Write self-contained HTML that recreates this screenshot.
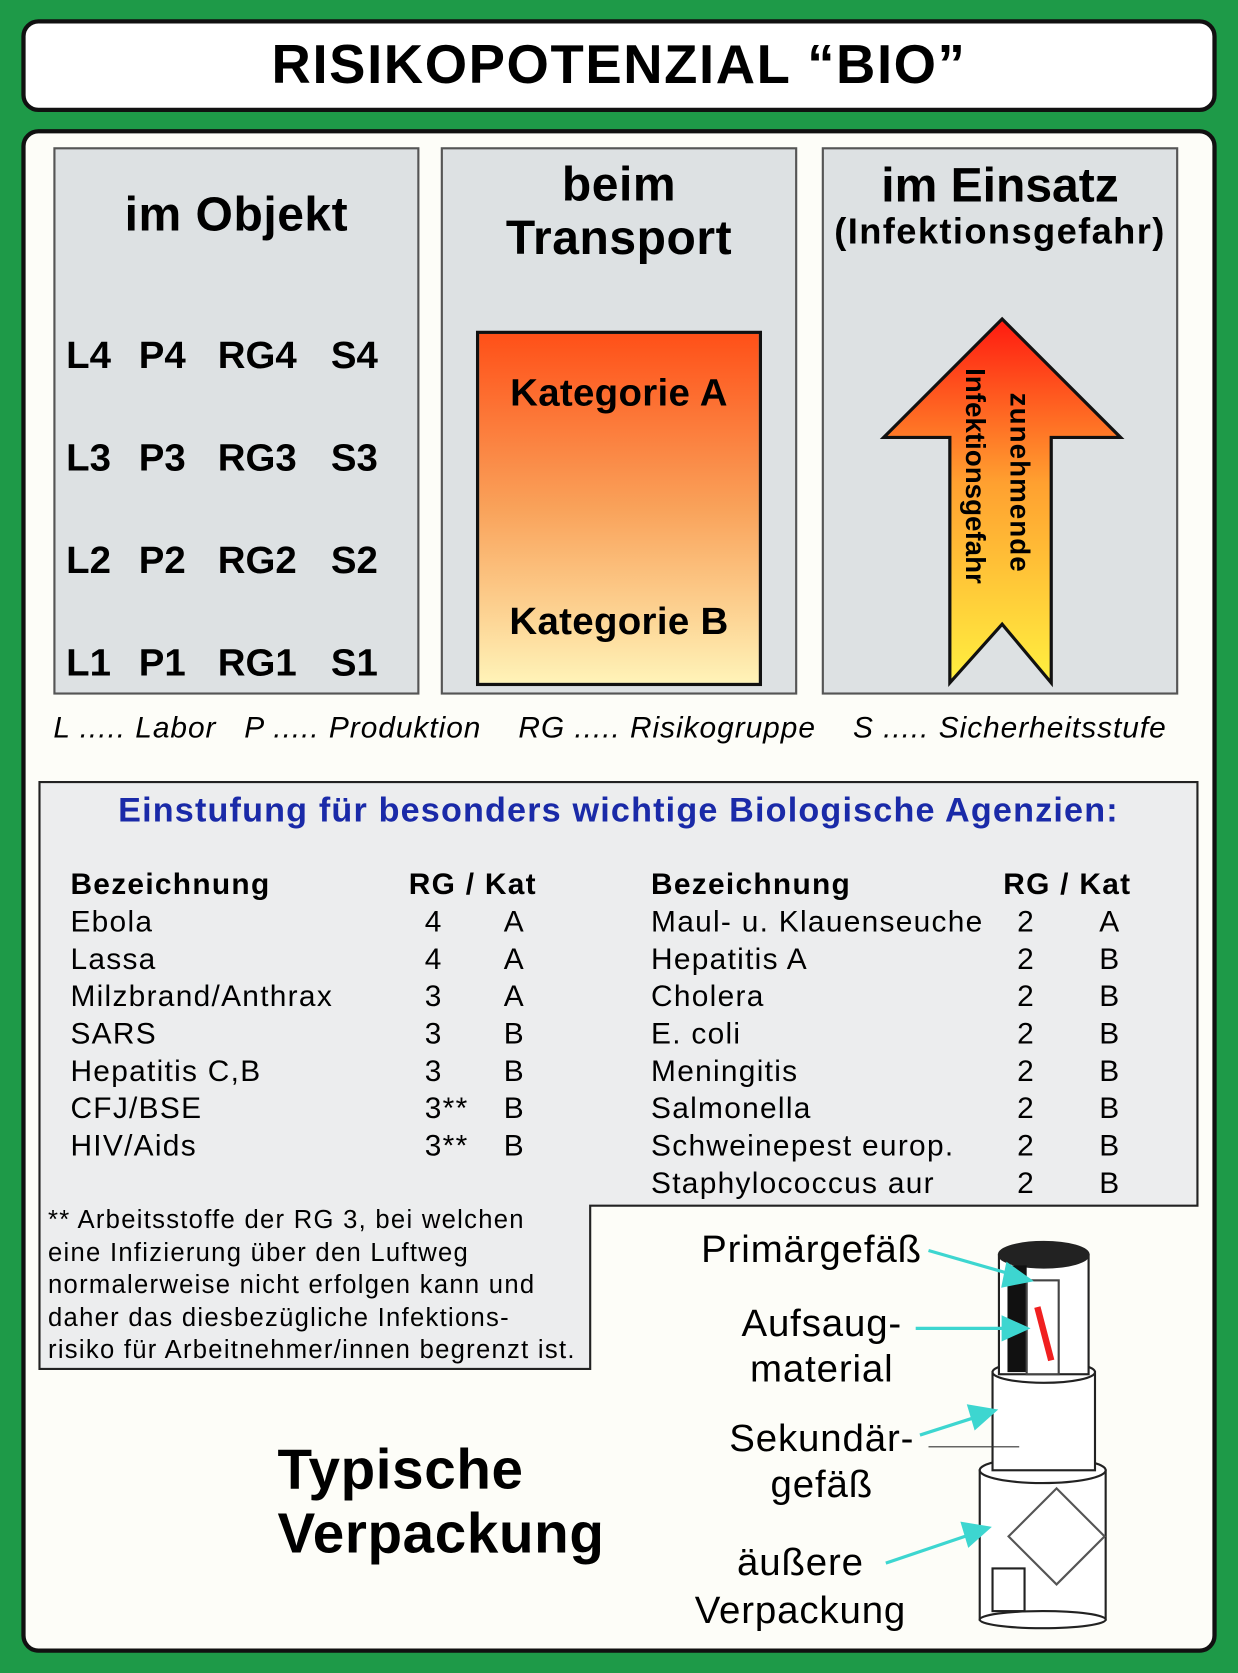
<!DOCTYPE html>
<html><head><meta charset="utf-8"><style>
html,body{margin:0;padding:0;background:#1e9a48;}
#wrap{width:1160px;height:1568px;transform:scale(1.06724,1.06696);transform-origin:0 0;position:relative;font-family:"Liberation Sans",sans-serif;}
.a{position:absolute;white-space:nowrap;}
.b{font-weight:bold;}
.panel{position:absolute;background:#dde1e3;border:2px solid #555;box-sizing:border-box;}
</style></head><body>
<div id="wrap">
<div class="a" style="left:20px;top:18px;width:1120px;height:87px;background:#fff;border:4px solid #111;border-radius:16px;box-sizing:border-box;"></div>
<div class="a b" style="left:20px;top:31px;width:1120px;text-align:center;font-size:51px;letter-spacing:1.5px;">RISIKOPOTENZIAL “BIO”</div>
<div class="a" style="left:20px;top:121px;width:1120px;height:1428px;background:#fdfdf8;border:4px solid #111;border-radius:16px;box-sizing:border-box;"></div>

<div class="panel" style="left:50px;top:138px;width:343px;height:513px;"></div>
<div class="panel" style="left:413px;top:138px;width:334px;height:513px;"></div>
<div class="panel" style="left:770px;top:138px;width:334px;height:513px;"></div>

<div class="a b" style="left:50px;top:175px;width:343px;text-align:center;font-size:45px;letter-spacing:0.5px;">im Objekt</div>
<div style="font-size:36px;font-weight:bold;">
<div class="a" style="left:62px;top:312px">L4</div><div class="a" style="left:130px;top:312px">P4</div><div class="a" style="left:204px;top:312px">RG4</div><div class="a" style="left:310px;top:312px">S4</div>
<div class="a" style="left:62px;top:408px">L3</div><div class="a" style="left:130px;top:408px">P3</div><div class="a" style="left:204px;top:408px">RG3</div><div class="a" style="left:310px;top:408px">S3</div>
<div class="a" style="left:62px;top:504px">L2</div><div class="a" style="left:130px;top:504px">P2</div><div class="a" style="left:204px;top:504px">RG2</div><div class="a" style="left:310px;top:504px">S2</div>
<div class="a" style="left:62px;top:600px">L1</div><div class="a" style="left:130px;top:600px">P1</div><div class="a" style="left:204px;top:600px">RG1</div><div class="a" style="left:310px;top:600px">S1</div>
</div>

<div class="a b" style="left:413px;top:148px;width:334px;text-align:center;font-size:45px;line-height:50px;letter-spacing:0.5px;">beim<br>Transport</div>
<div class="a" style="left:446px;top:310px;width:268px;height:333px;border:3px solid #111;box-sizing:border-box;background:linear-gradient(#ff5018,#f9a25a 50%,#fff3b8);"></div>
<div class="a b" style="left:446px;top:347px;width:268px;text-align:center;font-size:36px;letter-spacing:0.3px;">Kategorie A</div>
<div class="a b" style="left:446px;top:561px;width:268px;text-align:center;font-size:36px;letter-spacing:0.3px;">Kategorie B</div>

<div class="a b" style="left:770px;top:148px;width:334px;text-align:center;font-size:45px;">im Einsatz</div>
<div class="a b" style="left:770px;top:198px;width:334px;text-align:center;font-size:34px;letter-spacing:1.3px;">(Infektionsgefahr)</div>
<svg class="a" style="left:0;top:0" width="1160" height="700">
<defs><linearGradient id="ag" x1="0" y1="0" x2="0" y2="1"><stop offset="0" stop-color="#ff1a10"/><stop offset="0.45" stop-color="#ffa030"/><stop offset="1" stop-color="#fff040"/></linearGradient></defs>
<polygon points="939,299 1050,410 985,410 985,640 939,585 890,640 890,410 828,410" fill="url(#ag)" stroke="#111" stroke-width="3"/>
<text x="0" y="0" transform="translate(905,345) rotate(90)" font-family="Liberation Sans" font-weight="bold" font-size="26">Infektionsgefahr</text>
<text x="0" y="0" transform="translate(947,368) rotate(90)" font-family="Liberation Sans" font-weight="bold" font-size="26" letter-spacing="1">zunehmende</text>
</svg>

<div class="a" style="left:50px;top:666px;font-size:28px;font-style:italic;letter-spacing:0.9px;">L ..... Labor&nbsp;&nbsp;&nbsp;P ..... Produktion&nbsp;&nbsp;&nbsp;&nbsp;RG ..... Risikogruppe&nbsp;&nbsp;&nbsp;&nbsp;S ..... Sicherheitsstufe</div>

<svg class="a" style="left:0;top:0" width="1160" height="1300">
<polygon points="37,733 1122,733 1122,1130 553,1130 553,1283 37,1283" fill="#ecedee" stroke="#222" stroke-width="2"/>
</svg>
<div class="a b" style="left:37px;top:741px;width:1085px;text-align:center;font-size:32px;letter-spacing:1.1px;color:#1a2aa8;">Einstufung für besonders wichtige Biologische Agenzien:</div>
<div style="font-size:28px;letter-spacing:1.2px;">
<div class="a b" style="left:66px;top:813px">Bezeichnung</div><div class="a b" style="left:383px;top:813px">RG / Kat</div>
<div class="a b" style="left:610px;top:813px">Bezeichnung</div><div class="a b" style="left:940px;top:813px">RG / Kat</div>
<div class="a" style="left:66px;top:848px">Ebola</div><div class="a" style="left:398px;top:848px">4</div><div class="a" style="left:472px;top:848px">A</div>
<div class="a" style="left:66px;top:883px">Lassa</div><div class="a" style="left:398px;top:883px">4</div><div class="a" style="left:472px;top:883px">A</div>
<div class="a" style="left:66px;top:918px">Milzbrand/Anthrax</div><div class="a" style="left:398px;top:918px">3</div><div class="a" style="left:472px;top:918px">A</div>
<div class="a" style="left:66px;top:953px">SARS</div><div class="a" style="left:398px;top:953px">3</div><div class="a" style="left:472px;top:953px">B</div>
<div class="a" style="left:66px;top:988px">Hepatitis C,B</div><div class="a" style="left:398px;top:988px">3</div><div class="a" style="left:472px;top:988px">B</div>
<div class="a" style="left:66px;top:1023px">CFJ/BSE</div><div class="a" style="left:398px;top:1023px">3**</div><div class="a" style="left:472px;top:1023px">B</div>
<div class="a" style="left:66px;top:1058px">HIV/Aids</div><div class="a" style="left:398px;top:1058px">3**</div><div class="a" style="left:472px;top:1058px">B</div>
<div class="a" style="left:610px;top:848px">Maul- u. Klauenseuche</div><div class="a" style="left:953px;top:848px">2</div><div class="a" style="left:1030px;top:848px">A</div>
<div class="a" style="left:610px;top:883px">Hepatitis A</div><div class="a" style="left:953px;top:883px">2</div><div class="a" style="left:1030px;top:883px">B</div>
<div class="a" style="left:610px;top:918px">Cholera</div><div class="a" style="left:953px;top:918px">2</div><div class="a" style="left:1030px;top:918px">B</div>
<div class="a" style="left:610px;top:953px">E. coli</div><div class="a" style="left:953px;top:953px">2</div><div class="a" style="left:1030px;top:953px">B</div>
<div class="a" style="left:610px;top:988px">Meningitis</div><div class="a" style="left:953px;top:988px">2</div><div class="a" style="left:1030px;top:988px">B</div>
<div class="a" style="left:610px;top:1023px">Salmonella</div><div class="a" style="left:953px;top:1023px">2</div><div class="a" style="left:1030px;top:1023px">B</div>
<div class="a" style="left:610px;top:1058px">Schweinepest europ.</div><div class="a" style="left:953px;top:1058px">2</div><div class="a" style="left:1030px;top:1058px">B</div>
<div class="a" style="left:610px;top:1093px">Staphylococcus aur</div><div class="a" style="left:953px;top:1093px">2</div><div class="a" style="left:1030px;top:1093px">B</div>
</div>
<div class="a" style="left:45px;top:1129px;font-size:24px;letter-spacing:1.2px;line-height:30.5px;">** Arbeitsstoffe der RG 3, bei welchen<br>eine Infizierung über den Luftweg<br>normalerweise nicht erfolgen kann und<br>daher das diesbezügliche Infektions-<br>risiko für Arbeitnehmer/innen begrenzt ist.</div>

<div class="a b" style="left:260px;top:1348px;font-size:53px;letter-spacing:0.6px;line-height:60px;">Typische<br>Verpackung</div>

<div style="font-size:36px;letter-spacing:0.8px;">
<div class="a" style="left:657px;top:1150px">Primärgefäß</div>
<div class="a" style="left:680px;top:1218px;width:180px;text-align:center;line-height:43px;">Aufsaug-<br>material</div>
<div class="a" style="left:670px;top:1326px;width:200px;text-align:center;line-height:43px;">Sekundär-<br>gefäß</div>
<div class="a" style="left:640px;top:1441px;width:220px;text-align:center;line-height:45px;">äußere<br>Verpackung</div>
</div>

<svg class="a" style="left:0;top:0" width="1160" height="1568">
<g stroke="#222" stroke-width="2" fill="#fff">
<rect x="918" y="1378" width="118" height="140"/>
<ellipse cx="977" cy="1518" rx="59" ry="8"/>
<ellipse cx="977" cy="1378" rx="59" ry="12"/>
<rect x="930" y="1286" width="96" height="92"/>
<ellipse cx="978" cy="1286" rx="48" ry="10"/>
<rect x="936" y="1176" width="84" height="112"/>
<ellipse cx="978" cy="1176" rx="42" ry="12" fill="#222"/>
</g>
<rect x="944" y="1186" width="18" height="100" fill="#111"/>
<rect x="962" y="1200" width="30" height="88" fill="#fff" stroke="#444" stroke-width="2"/>
<line x1="972" y1="1225" x2="985" y2="1275" stroke="#f02020" stroke-width="6"/>
<polygon points="990,1395 1035,1440 990,1485 945,1440" fill="none" stroke="#555" stroke-width="2"/>
<rect x="930" y="1470" width="30" height="40" fill="#fff" stroke="#222" stroke-width="2"/>
<g stroke="#3dd6d0" stroke-width="3" fill="#3dd6d0">
<line x1="870" y1="1172" x2="950" y2="1195"/><polygon points="965,1200 944,1185 940,1205"/>
<line x1="858" y1="1245" x2="945" y2="1245"/><polygon points="962,1245 940,1235 940,1255"/>
<line x1="862" y1="1345" x2="915" y2="1328"/><polygon points="932,1322 908,1318 914,1338"/>
<line x1="830" y1="1465" x2="910" y2="1438"/><polygon points="926,1432 902,1428 908,1448"/>
</g>
<line x1="870" y1="1356" x2="955" y2="1356" stroke="#333" stroke-width="1"/>
</svg>
</div>
</body></html>
